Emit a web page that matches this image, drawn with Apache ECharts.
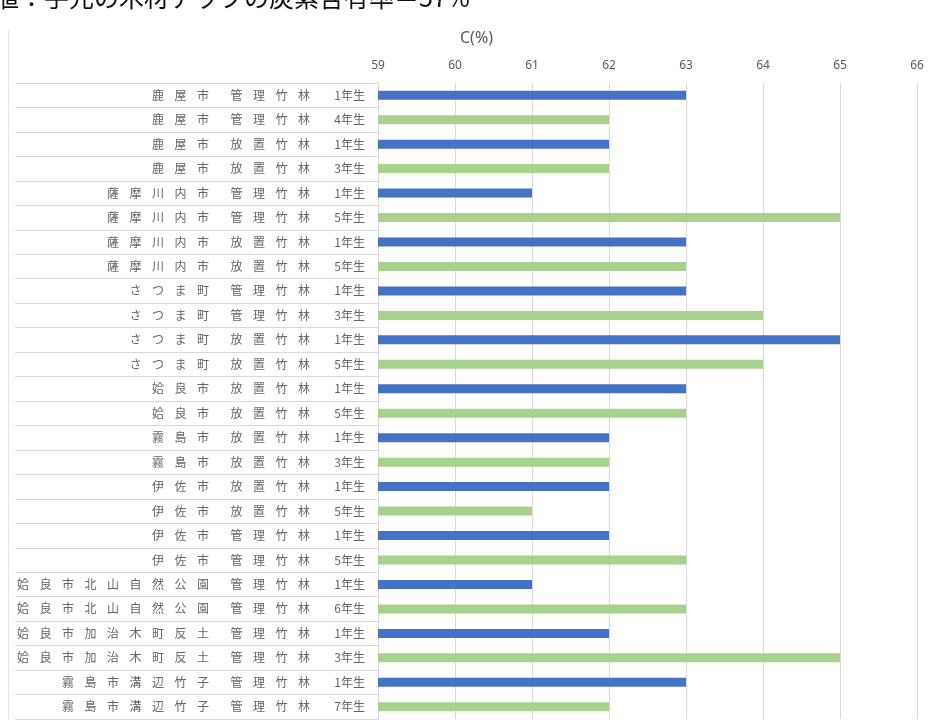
<html>
<head>
    <meta charset='utf-8'/>
    <title>竹の炭素含有率</title>
    <style>
        body {
            margin: 0;
            padding: 0;
            background: #fff;
        }

        #chart {
            position: absolute;
            top: 0;
            left: 0;
            width: 930px;
            height: 720px;
        }
    </style>
</head>
<body>
<div id='chart'></div>
<script type="text/javascript" src="https://cdn.jsdelivr.net/npm/echarts@6/dist/echarts.min.js"></script>
<script type="text/javascript">
    // 採取地・竹林の状態・竹齢
    var places = [
        '鹿屋市', '鹿屋市', '鹿屋市', '鹿屋市',
        '薩摩川内市', '薩摩川内市', '薩摩川内市', '薩摩川内市',
        'さつま町', 'さつま町', 'さつま町', 'さつま町',
        '姶良市', '姶良市',
        '霧島市', '霧島市',
        '伊佐市', '伊佐市', '伊佐市', '伊佐市',
        '姶良市北山自然公園', '姶良市北山自然公園',
        '姶良市加治木町反土', '姶良市加治木町反土',
        '霧島市溝辺竹子', '霧島市溝辺竹子'
    ];
    var methods = [
        '管理竹林', '管理竹林', '放置竹林', '放置竹林',
        '管理竹林', '管理竹林', '放置竹林', '放置竹林',
        '管理竹林', '管理竹林', '放置竹林', '放置竹林',
        '放置竹林', '放置竹林',
        '放置竹林', '放置竹林',
        '放置竹林', '放置竹林', '管理竹林', '管理竹林',
        '管理竹林', '管理竹林',
        '管理竹林', '管理竹林',
        '管理竹林', '管理竹林'
    ];
    var ages = [
        '1年生', '4年生', '1年生', '3年生',
        '1年生', '5年生', '1年生', '5年生',
        '1年生', '3年生', '1年生', '5年生',
        '1年生', '5年生',
        '1年生', '3年生',
        '1年生', '5年生', '1年生', '5年生',
        '1年生', '6年生',
        '1年生', '3年生',
        '1年生', '7年生'
    ];
    // C(%)
    var carbon = [
        63, 62, 62, 62,
        61, 65, 63, 63,
        63, 64, 65, 64,
        63, 63,
        62, 62,
        62, 61, 62, 63,
        61, 63,
        62, 65,
        63, 62
    ];
    var axisMin = 59, axisMax = 66, axisStep = 1;

    var categories = places.map(function (p, i) {
        return p + ' ' + methods[i] + ' ' + ages[i];
    });

    function spread(text) {
        var s = '';
        text.split('').forEach(function (ch) {
            s += '{c|' + ch + '}';
        });
        return s;
    }

    var chart = echarts.init(document.getElementById('chart'), null, {renderer: 'canvas'});

    var option = {
        backgroundColor: '#fff',
        animation: false,
        title: {
            text: 'C(%)',
            left: 455,
            top: 25,
            textStyle: {
                color: '#595959',
                fontSize: 16,
                fontWeight: 'normal',
                fontFamily: 'Noto Sans'
            }
        },
        graphic: [
            {
                type: 'text',
                x: -56,
                y: -15,
                style: {
                    text: '参考値：手元の木材チップの炭素含有率＝57%',
                    font: '25px "Noto Sans CJK JP"',
                    fill: '#111',
                    verticalAlign: 'top'
                }
            },
            {
                type: 'line',
                shape: {x1: 8.5, y1: 30, x2: 8.5, y2: 720},
                style: {stroke: '#e6e6e6', lineWidth: 1}
            }
        ],
        grid: {
            left: 378,
            right: 13,
            top: 83,
            bottom: 1,
            containLabel: false,
            outerBoundsMode: 'none'
        },
        xAxis: {
            type: 'value',
            position: 'top',
            min: axisMin,
            max: axisMax,
            interval: axisStep,
            axisLine: {show: false},
            axisTick: {show: false},
            axisLabel: {
                color: '#595959',
                fontSize: 12,
                fontFamily: 'Noto Sans',
                margin: 11
            },
            splitLine: {
                lineStyle: {color: '#d9d9d9', width: 1}
            }
        },
        yAxis: {
            type: 'category',
            inverse: true,
            data: categories,
            axisLine: {
                show: true,
                lineStyle: {color: '#d9d9d9'}
            },
            axisTick: {
                show: true,
                interval: 0,
                length: 363,
                lineStyle: {color: '#d9d9d9'}
            },
            axisLabel: {
                interval: 0,
                margin: 13,
                color: '#666',
                fontSize: 12,
                fontFamily: 'Noto Sans CJK JP',
                formatter: function (value) {
                    var parts = value.split(' ');
                    return spread(parts[0]) + '{s| }' + spread(parts[1]) + '{t| }{a|' + parts[2] + '}';
                },
                rich: {
                    c: {width: 22.5, align: 'center', fontSize: 12, color: '#666', fontFamily: 'Noto Sans CJK JP'},
                    s: {width: 11, align: 'center'},
                    t: {width: 19, align: 'center'},
                    a: {align: 'center', fontSize: 12, color: '#666', fontFamily: 'Noto Sans CJK JP'}
                }
            }
        },
        series: [
            {
                name: 'C(%)',
                type: 'bar',
                barWidth: 9,
                data: carbon,
                itemStyle: {
                    color: function (params) {
                        return ages[params.dataIndex] === '1年生' ? '#4472c4' : '#a9d18e';
                    }
                }
            }
        ]
    };

    chart.setOption(option);
</script>
</body>
</html>
